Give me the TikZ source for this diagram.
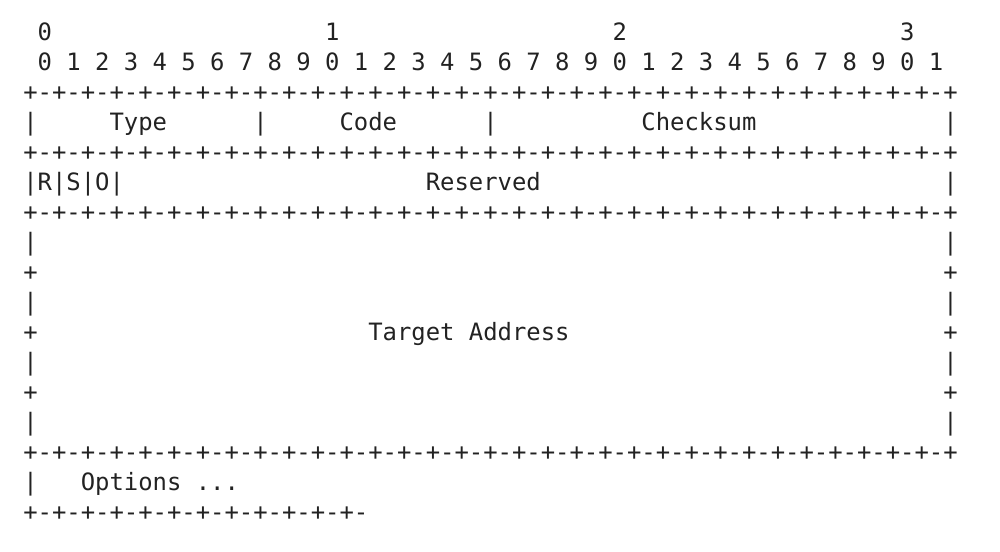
\documentclass[tikz,border=0pt]{standalone}
\usepackage{fontspec}
\newfontfamily\monofont{DejaVu Sans Mono}
\usetikzlibrary{positioning}
\definecolor{inkgray}{HTML}{222222}
\tikzset{every picture/.style={line width=0.75pt}}
\tikzset{
  ascii/.style={anchor=base west,inner sep=0pt,outer sep=0pt,text=inkgray,
    font=\monofont\fontsize{11.94pt}{15pt}\selectfont},
}
\newcommand{\sepline}{+-+-+-+-+-+-+-+-+-+-+-+-+-+-+-+-+-+-+-+-+-+-+-+-+-+-+-+-+-+-+-+-+}

\begin{document}
\begin{tikzpicture}[x=7.1875pt,y=-15pt]
  % one unit = one character column / one text row
  \useasboundingbox (-1.62,-1.35) rectangle (67.945,17.017);
    % bit numbers
    \foreach \t in {0,1,2,3}
      \node[ascii] (tens\t) at ({20*\t+1},0) {\t};
    \foreach \b in {0,...,31}{
      \pgfmathtruncatemacro{\d}{mod(\b,10)}
      \node[ascii] (bit\b) at ({2*\b+1},1) {\d};
    }
    % separator lines
    \foreach \r in {2,4,6,14}
      \node[ascii] (sep\r) at (0,\r) {\sepline};
    \node[ascii] (sepend) at (0,16) {+-+-+-+-+-+-+-+-+-+-+-+-};

    % first word
    \foreach \c in {0,16,32,64}
      \node[ascii] (bar3c\c) at (\c,3) {|};
    \node[ascii] (type) at (6,3) {Type};
    \node[ascii] (code) at (22,3) {Code};
    \node[ascii] (checksum) at (43,3) {Checksum};

    % flags
    \node[ascii] (flags) at (0,5) {|R|S|O|};
    \node[ascii] (reserved) at (28,5) {Reserved};
    \node[ascii] (bar5) at (64,5) {|};

    % target address
    \foreach \r in {7,9,11,13}{
      \node[ascii] (left\r) at (0,\r) {|};
      \node[ascii] (right\r) at (64,\r) {|};
    }
    \foreach \r in {8,10,12}{
      \node[ascii] (left\r) at (0,\r) {+};
      \node[ascii] (right\r) at (64,\r) {+};
    }
    \node[ascii] (target) at (24,10) {Target Address};

    % options
    \node[ascii] (bar15) at (0,15) {|};
    \node[ascii] (options) at (4,15) {Options ...};
\end{tikzpicture}
\end{document}
